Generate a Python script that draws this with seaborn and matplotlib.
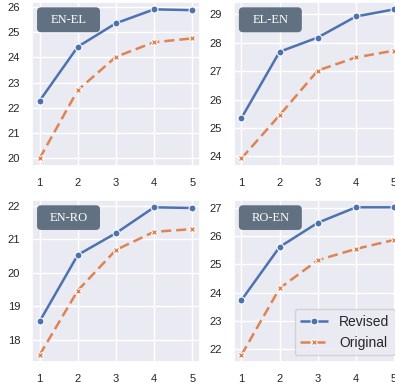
import matplotlib
matplotlib.use("Agg")
import matplotlib.pyplot as plt
from matplotlib.patches import FancyBboxPatch
import pandas as pd
import seaborn as sns

steps = [1, 2, 3, 4, 5]
pairs = ["EN-EL", "EL-EN", "EN-RO", "RO-EN"]
revised = {
    "EN-EL": [22.28, 24.42, 25.35, 25.90, 25.87],
    "EL-EN": [25.35, 27.68, 28.18, 28.92, 29.17],
    "EN-RO": [18.55, 20.53, 21.18, 21.95, 21.93],
    "RO-EN": [23.73, 25.62, 26.48, 27.03, 27.03],
}
original = {
    "EN-EL": [20.00, 22.70, 24.02, 24.60, 24.75],
    "EL-EN": [23.93, 25.45, 27.02, 27.48, 27.72],
    "EN-RO": [17.55, 19.47, 20.68, 21.22, 21.30],
    "RO-EN": [21.78, 24.15, 25.15, 25.55, 25.87],
}

sns.set_theme(style="darkgrid")
plt.rcParams["font.family"] = ["Liberation Sans", "DejaVu Sans"]

fig = plt.figure(figsize=(3.95, 3.83), dpi=100)
# axes positions (the right column runs a bit past the figure edge, like the source)
boxes = [
    [0.081, 0.567, 0.425, 0.428],
    [0.592, 0.567, 0.425, 0.428],
    [0.081, 0.054, 0.425, 0.424],
    [0.592, 0.054, 0.425, 0.424],
]

for i, pair in enumerate(pairs):
    ax = fig.add_axes(boxes[i])
    df = pd.DataFrame({
        "step": steps * 2,
        "bleu": revised[pair] + original[pair],
        "model": ["Revised"] * 5 + ["Original"] * 5,
    })
    sns.lineplot(data=df, x="step", y="bleu", hue="model", style="model",
                 markers=["o", "X"], dashes=[(1, 0), (4, 2)], markersize=5,
                 linewidth=1.8, ax=ax, legend=(pair == "RO-EN"))
    ax.set_xticks(steps)
    ax.set_xlabel("")
    ax.set_ylabel("")
    ax.tick_params(labelsize=8, pad=2.5)
    box = FancyBboxPatch((0.03, 0.815), 0.375, 0.152, transform=ax.transAxes,
                         boxstyle="round,pad=0,rounding_size=0.025",
                         facecolor="#627181", edgecolor="none", zorder=5)
    ax.add_patch(box)
    ax.text(0.217, 0.891, pair, transform=ax.transAxes, ha="center", va="center",
            color="white", fontsize=9, family="Liberation Serif", zorder=6)
    if pair == "RO-EN":
        ax.legend(loc="lower right", fontsize=10, title=None)

fig.savefig("out.png", dpi=100)
